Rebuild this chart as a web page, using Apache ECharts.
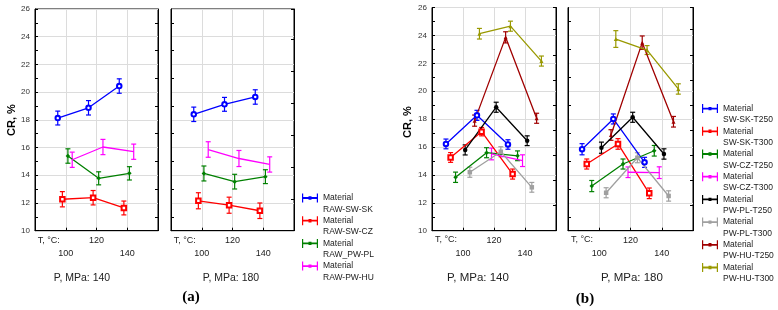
<!DOCTYPE html>
<html>
<head>
<meta charset="utf-8">
<script src="https://cdn.jsdelivr.net/npm/echarts@6/dist/echarts.min.js"></script>
<style>
html, body { margin: 0; padding: 0; background: #fff; }
#main { width: 778px; height: 310px; }
</style>
</head>
<body>
<div id="main"></div>
<script>
// temperature categories and pressure panels
var temps = [100, 120, 140];
var pressures = [140, 180];

// (a) raw materials
var namesA = ['RAW-SW-SK', 'RAW-SW-CZ', 'RAW_PW-PL', 'RAW-PW-HU'];
var crA140 = [[18.13, 18.87, 20.44], [12.27, 12.38, 11.64], [15.39, 13.78, 14.14], [15.12, 16.04, 15.70]];
var errA140 = [[0.50, 0.52, 0.52], [0.55, 0.52, 0.50], [0.52, 0.47, 0.48], [0.55, 0.55, 0.55]];
var crA180 = [[18.40, 19.12, 19.65], [12.16, 11.84, 11.44], [14.13, 13.54, 13.90], [15.86, 15.21, 14.78]];
var errA180 = [[0.52, 0.50, 0.52], [0.58, 0.58, 0.56], [0.54, 0.53, 0.50], [0.56, 0.58, 0.55]];

// (b) torrefied materials
var namesB = ['SW-SK-T250', 'SW-SK-T300', 'SW-CZ-T250', 'SW-CZ-T300', 'PW-PL-T250', 'PW-PL-T300', 'PW-HU-T250', 'PW-HU-T300'];
var crB140 = [[16.22, 18.27, 16.18], [15.25, 17.10, 14.06], [13.83, 15.59, 15.37], [null, 15.50, 15.02],
              [15.79, 18.85, 16.45], [14.19, 15.66, 13.11], [17.89, 23.86, 18.06], [24.12, 24.66, 22.16]];
var errB140 = [[0.35, 0.36, 0.34], [0.35, 0.30, 0.36], [0.37, 0.36, 0.35], [null, 0.42, 0.42],
               [0.36, 0.36, 0.35], [0.36, 0.36, 0.35], [0.40, 0.40, 0.36], [0.38, 0.36, 0.36]];
var crB180 = [[15.84, 18.01, 14.90], [14.78, 16.22, 12.68], [13.20, 14.78, 15.73], [null, 14.19, 14.16],
              [15.95, 18.13, 15.50], [12.72, 15.23, 12.49], [16.86, 23.48, 17.81], [23.74, 22.95, 20.16]];
var errB180 = [[0.40, 0.36, 0.36], [0.36, 0.38, 0.38], [0.40, 0.36, 0.38], [null, 0.38, 0.42],
               [0.40, 0.36, 0.37], [0.36, 0.36, 0.37], [0.38, 0.48, 0.38], [0.60, 0.32, 0.37]];

// styling
var colorsA = ['#0000ff', '#ff0000', '#008000', '#ff00ff'];
var colorsB = ['#0000ff', '#ff0000', '#008000', '#ff00ff', '#000000', '#a0a0a0', '#a00000', '#999900'];
var symA = ['emptyCircle', 'emptyRect', 'diamond', 'none'];
var symB = ['emptyCircle', 'emptyRect', 'diamond', 'none', 'circle', 'rect', 'triangle', 'triangle'];
var dodgeA = [-0.26, -0.11, 0.07, 0.21];
var dodgeB = [-0.55, -0.40, -0.24, -0.08, 0.07, 0.22, 0.375, 0.53];
var FONT = 'Liberation Sans, Arial, sans-serif';
var GRIDC = '#dcdcdc';
var legendIcon = 'path://M0,0H1.2V3.6H14.8V0H16V9H14.8V5.4H1.2V9H0Z M6.5,2.8H9.5V6.2H6.5Z';

var grids = [
  {left: 35, top: 9, width: 123, height: 221.7},
  {left: 171, top: 9, width: 123, height: 221.7},
  {left: 432, top: 7.5, width: 124, height: 223.2},
  {left: 568, top: 7.5, width: 125, height: 223.2}
];
grids.forEach(function (g) {
  g.show = true; g.borderColor = '#000'; g.borderWidth = 1; g.backgroundColor = '#fff';
  g.containLabel = false;
});

var xAxes = grids.map(function (g, i) {
  return {
    type: 'value', gridIndex: i, min: 0, max: temps.length + 1, interval: 1,
    axisLine: {lineStyle: {color: '#000'}},
    axisTick: {inside: true, length: 3, lineStyle: {color: '#000'}},
    splitLine: {show: true, lineStyle: {color: GRIDC}},
    axisLabel: {
      margin: 3, fontSize: 9, lineHeight: 13.5, color: '#222', fontFamily: FONT,
      showMinLabel: true, showMaxLabel: true,
      formatter: function (v) {
        var t = temps[v - 1];
        if (t === undefined) return '';
        return (v % 2 === 1) ? '\n' + t : '' + t;
      }
    }
  };
});

// right-edge tick spacing per panel (Statistica style frames)
var rightMax = [null, 6.94, 8.88, 8.88];
var yAxes = [];
grids.forEach(function (g, i) {
  var first = (i === 0 || i === 2);
  yAxes.push({
    type: 'value', gridIndex: i, min: 10, max: 26, interval: 2, position: 'left',
    axisLine: {show: true, lineStyle: {color: '#000'}},
    axisTick: {show: first, inside: true, length: 3, lineStyle: {color: '#000'}},
    minorTick: {show: true, splitNumber: 2, length: 3, lineStyle: {color: '#000'}},
    splitLine: {show: true, lineStyle: {color: GRIDC}},
    axisLabel: {show: first, fontSize: 8, color: '#333', margin: 5, fontFamily: FONT}
  });
  if (rightMax[i] === null) {
    yAxes.push({
      type: 'value', gridIndex: i, min: 10, max: 26, interval: 2, position: 'right',
      axisLine: {show: true, lineStyle: {color: '#000'}},
      axisTick: {show: false, inside: true},
      minorTick: {show: true, splitNumber: 2, length: 3, lineStyle: {color: '#000'}},
      splitLine: {show: false}, axisLabel: {show: false}
    });
  } else {
    yAxes.push({
      type: 'value', gridIndex: i, min: 0, max: rightMax[i], interval: 1, position: 'right',
      axisLine: {show: true, lineStyle: {color: '#000'}},
      axisTick: {show: true, inside: true, length: 3, lineStyle: {color: '#000'}},
      splitLine: {show: false}, axisLabel: {show: false}
    });
  }
});

function renderErr(params, api) {
  var x = api.value(0);
  var p1 = api.coord([x, api.value(2)]);
  var p2 = api.coord([x, api.value(1)]);
  var w = 2.5;
  var st = {stroke: api.visual('color'), lineWidth: 1.2};
  return {type: 'group', children: [
    {type: 'line', shape: {x1: p1[0], y1: p1[1], x2: p2[0], y2: p2[1]}, style: st},
    {type: 'line', shape: {x1: p1[0] - w, y1: p1[1], x2: p1[0] + w, y2: p1[1]}, style: st},
    {type: 'line', shape: {x1: p2[0] - w, y1: p2[1], x2: p2[0] + w, y2: p2[1]}, style: st}
  ]};
}

var lines = [];
var bars = [];
function addPanel(gi, names, colors, syms, dodge, cr, err) {
  names.forEach(function (name, s) {
    var pts = [], eb = [];
    temps.forEach(function (t, i) {
      if (cr[s][i] === null) return;
      var x = i + 1 + dodge[s];
      pts.push([x, cr[s][i]]);
      eb.push([x, cr[s][i] - err[s][i], cr[s][i] + err[s][i]]);
    });
    lines.push({
      name: name, type: 'line', xAxisIndex: gi, yAxisIndex: gi * 2, data: pts,
      symbol: syms[s], symbolSize: syms[s].indexOf('triangle') >= 0 ? 4 : 4.5,
      lineStyle: {color: colors[s], width: 1.3},
      itemStyle: {color: colors[s], borderWidth: 1},
      animation: false, z: 3
    });
    bars.push({
      name: name, type: 'custom', xAxisIndex: gi, yAxisIndex: gi * 2, data: eb,
      encode: {x: 0, y: [1, 2]}, renderItem: renderErr,
      itemStyle: {color: colors[s]}, animation: false, z: 2
    });
  });
}
addPanel(0, namesA, colorsA, symA, dodgeA, crA140, errA140);
addPanel(1, namesA, colorsA, symA, dodgeA, crA180, errA180);
addPanel(2, namesB, colorsB, symB, dodgeB, crB140, errB140);
addPanel(3, namesB, colorsB, symB, dodgeB, crB180, errB180);

// blank first line keeps "Material" level with the icon
function legendFor(names, colors, left, top) {
  return {
    orient: 'vertical', left: left, top: top, padding: 0,
    itemWidth: 16, itemHeight: 9, itemGap: -10.9,
    selectedMode: false,
    data: names.map(function (n, i) {
      return {name: n, icon: legendIcon, itemStyle: {color: colors[i], borderWidth: 0}};
    }),
    formatter: function (n) { return ' \nMaterial\n' + n; },
    textStyle: {fontSize: 8.5, lineHeight: 11.2, color: '#222', fontFamily: FONT}
  };
}

function txt(x, y, s, size, extra) {
  var o = {type: 'text', x: x, y: y, silent: true,
    style: {text: s, fontSize: size, fontFamily: FONT, fill: '#222', align: 'center', verticalAlign: 'middle'}};
  if (extra) { for (var k in extra) o.style[k] = extra[k]; }
  return o;
}

var graphics = [
  txt(37.7, 240.5, 'T, °C:', 9, {align: 'left'}),
  txt(173.7, 240.5, 'T, °C:', 9, {align: 'left'}),
  txt(435, 240, 'T, °C:', 9, {align: 'left'}),
  txt(571, 240, 'T, °C:', 9, {align: 'left'}),
  txt(82, 278, 'P, MPa: ' + pressures[0], 10.5),
  txt(231, 278, 'P, MPa: ' + pressures[1], 10.5),
  txt(478, 278, 'P, MPa: ' + pressures[0], 11.5),
  txt(632, 278, 'P, MPa: ' + pressures[1], 11.5),
  txt(191, 297, '(a)', 15, {fontFamily: 'Liberation Serif, Times New Roman, serif', fontWeight: 'bold', fill: '#000'}),
  txt(585, 299, '(b)', 15, {fontFamily: 'Liberation Serif, Times New Roman, serif', fontWeight: 'bold', fill: '#000'})
];
var crA = txt(0, 0, 'CR, %', 11, {fontWeight: 'bold', fill: '#000'});
crA.x = 12; crA.y = 120; crA.rotation = Math.PI / 2;
var crB = txt(0, 0, 'CR, %', 11, {fontWeight: 'bold', fill: '#000'});
crB.x = 408; crB.y = 122; crB.rotation = Math.PI / 2;
graphics.push(crA, crB);

var myChart = echarts.init(document.getElementById('main'), null, {renderer: 'canvas'});
myChart.setOption({
  animation: false,
  backgroundColor: '#fff',
  grid: grids,
  xAxis: xAxes,
  yAxis: yAxes,
  legend: [legendFor(namesA, colorsA, 302, 181.2), legendFor(namesB, colorsB, 702, 91.8)],
  graphic: graphics,
  series: lines.concat(bars)
});
</script>
</body>
</html>
